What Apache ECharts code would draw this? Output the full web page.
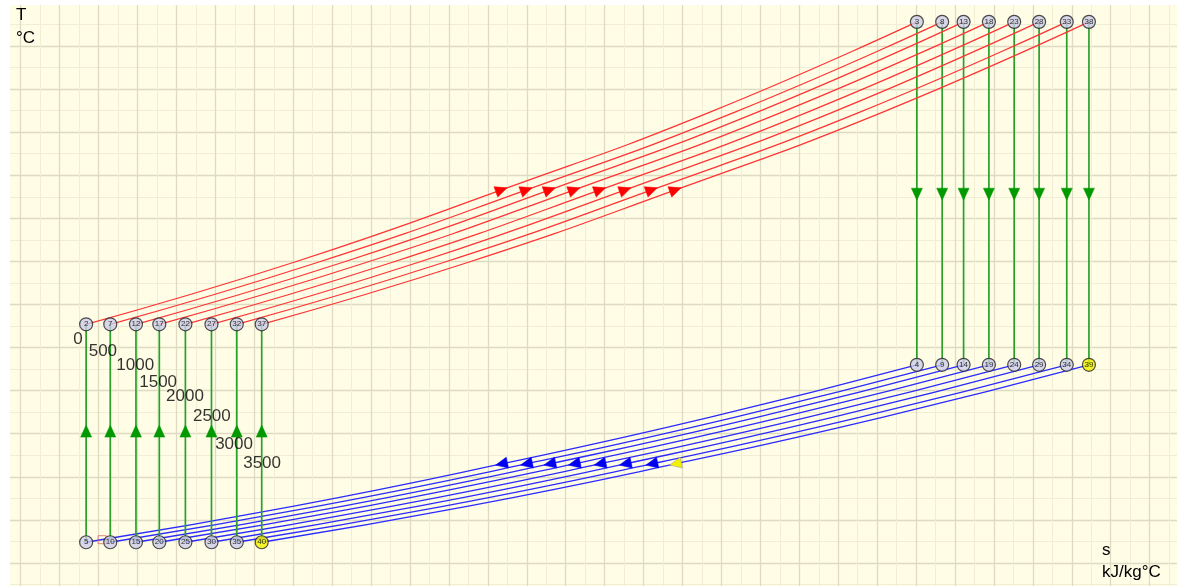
<!DOCTYPE html>
<html>
<head>
<meta charset="utf-8">
<script src="https://cdn.jsdelivr.net/npm/echarts@6/dist/echarts.min.js"></script>
<style>
  html, body { margin: 0; padding: 0; background: #fff; }
  #chart { width: 1177px; height: 586px; }
</style>
</head>
<body>
<div id="chart"></div>
<script>
// T-s diagram, 8 cycles
var chart = echarts.init(document.getElementById('chart'));

// cycle labels (left side)
var cycleLabels = ['0', '500', '1000', '1500', '2000', '2500', '3000', '3500'];
var cycleLabelPos = [[0.247, 260], [0.311, 246], [0.394, 229], [0.453, 210],
                     [0.522, 193], [0.591, 170], [0.648, 138], [0.720, 116]];

// state points: s (kJ/kg°C) and T (°C)
var sLeft  = [0.268, 0.330, 0.396, 0.456, 0.523, 0.590, 0.655, 0.719];
var sRight = [2.402, 2.467, 2.522, 2.587, 2.652, 2.716, 2.787, 2.844];
var tTopLeft = 277, tTopRight = 628, tBotRight = 230, tBotLeft = 24;
var tUpArrow = 153, tDownArrow = 428;

// node numbers
var nodeTopLeft  = [2, 7, 12, 17, 22, 27, 32, 37];
var nodeTopRight = [3, 8, 13, 18, 23, 28, 33, 38];
var nodeBotRight = [4, 9, 14, 19, 24, 29, 34, 39];
var nodeBotLeft  = [5, 10, 15, 20, 25, 30, 35, 40];

// heating curves (red), left -> right
var heatCurves = [
  [[0.268, 277], [0.802, 349], [1.335, 433], [1.869, 523], [2.402, 628]],
  [[0.330, 277], [0.864, 349], [1.399, 433], [1.933, 523], [2.467, 628]],
  [[0.396, 277], [0.928, 349], [1.459, 433], [1.991, 523], [2.522, 628]],
  [[0.456, 277], [0.989, 349], [1.522, 433], [2.054, 523], [2.587, 628]],
  [[0.523, 277], [1.055, 349], [1.588, 433], [2.120, 523], [2.652, 628]],
  [[0.590, 277], [1.122, 349], [1.653, 433], [2.185, 523], [2.716, 628]],
  [[0.655, 277], [1.188, 349], [1.721, 433], [2.254, 523], [2.787, 628]],
  [[0.719, 277], [1.250, 349], [1.782, 433], [2.313, 523], [2.844, 628]]
];

// cooling curves (blue), right -> left
var coolCurves = [
  [[2.402, 230], [1.869, 169], [1.335, 115], [0.802, 66], [0.268, 24]],
  [[2.467, 230], [1.933, 169], [1.399, 115], [0.864, 66], [0.330, 24]],
  [[2.522, 230], [1.991, 169], [1.459, 115], [0.928, 66], [0.396, 24]],
  [[2.587, 230], [2.054, 169], [1.522, 115], [0.989, 66], [0.456, 24]],
  [[2.652, 230], [2.120, 169], [1.588, 115], [1.055, 66], [0.523, 24]],
  [[2.716, 230], [2.185, 169], [1.653, 115], [1.122, 66], [0.590, 24]],
  [[2.787, 230], [2.254, 169], [1.721, 115], [1.188, 66], [0.655, 24]],
  [[2.844, 230], [2.313, 169], [1.782, 115], [1.250, 66], [0.719, 24]]
];

var markerBox = [0.309, 27];

var FONT = '"Liberation Sans", Arial, sans-serif';

function arrowLine(points, midIndex, color, arrowColor, rotate, width) {
  return {
    type: 'line',
    smooth: true,
    symbol: 'none',
    silent: true,
    lineStyle: { color: color, width: width },
    data: points.map(function (p, i) {
      if (i !== midIndex) return { value: p, symbol: 'none' };
      return {
        value: p,
        symbol: 'triangle',
        symbolSize: [11, 12],
        symbolRotate: rotate,
        itemStyle: { color: arrowColor, borderColor: arrowColor === '#f2f200' ? '#999' : arrowColor, borderWidth: 0.5 }
      };
    }),
    z: 3
  };
}

var series = [];
for (var k = 0; k < 8; k++) {
  series.push(arrowLine(coolCurves[k], 2, '#2b2bff', k === 7 ? '#f2f200' : '#0000f0', 102, 1.3));
  series.push(arrowLine(heatCurves[k], 2, '#ff3535', '#ff0000', -70, 1.3));
  series.push(arrowLine([[sLeft[k], tBotLeft], [sLeft[k], tUpArrow], [sLeft[k], tTopLeft]], 1, '#2aa02a', '#009a00', 0, 1.7));
  series.push(arrowLine([[sRight[k], tTopRight], [sRight[k], tDownArrow], [sRight[k], tBotRight]], 1, '#2aa02a', '#009a00', 180, 1.7));
}

// nodes
var nodes = [];
for (var j = 0; j < 8; j++) {
  nodes.push([sLeft[j], tTopLeft, nodeTopLeft[j]]);
  nodes.push([sRight[j], tTopRight, nodeTopRight[j]]);
  nodes.push([sRight[j], tBotRight, nodeBotRight[j]]);
  nodes.push([sLeft[j], tBotLeft, nodeBotLeft[j]]);
}
series.push({
  type: 'scatter',
  silent: true,
  symbol: 'circle',
  symbolSize: 13,
  z: 5,
  data: nodes.map(function (n) {
    var yellow = n[2] === 39 || n[2] === 40;
    return {
      value: n,
      itemStyle: {
        color: yellow ? '#f0f000' : '#cdcdea',
        borderColor: '#222',
        borderWidth: 1.2
      }
    };
  }),
  label: {
    show: true,
    position: 'inside',
    formatter: function (p) { return p.value[2]; },
    fontSize: 8,
    fontFamily: FONT,
    color: '#000'
  }
});

// small marker box near node 5
series.push({
  type: 'scatter',
  silent: true,
  symbol: 'rect',
  symbolSize: 8,
  z: 4,
  data: [markerBox],
  itemStyle: { color: 'rgba(0,0,0,0)', borderColor: '#e06a6a', borderWidth: 1 }
});

// cycle labels
series.push({
  type: 'scatter',
  silent: true,
  symbolSize: 1,
  z: 6,
  itemStyle: { color: 'rgba(0,0,0,0)' },
  data: cycleLabelPos.map(function (p, i) { return { value: p, name: cycleLabels[i] }; }),
  label: {
    show: true,
    position: 'inside',
    formatter: function (p) { return p.name; },
    fontSize: 17,
    fontFamily: FONT,
    color: '#000'
  }
});

var option = {
  animation: false,
  backgroundColor: '#fffde6',
  grid: {
    left: -18.2,
    top: 2.92,
    width: 1206.8,
    height: 603.1,
    outerBoundsMode: 'none',
    show: false
  },
  xAxis: {
    type: 'value',
    min: 0,
    max: 3.1,
    interval: 0.1,
    axisLine: { show: false },
    axisTick: { show: false },
    axisLabel: { show: false },
    splitLine: { show: true, lineStyle: { color: '#dfdbc2', width: 1.3 } },
    minorTick: { show: false, splitNumber: 2 },
    minorSplitLine: { show: true, lineStyle: { color: '#f2eed6', width: 1 } }
  },
  yAxis: {
    type: 'value',
    min: -50,
    max: 650,
    interval: 50,
    axisLine: { show: false },
    axisTick: { show: false },
    axisLabel: { show: false },
    splitLine: { show: true, lineStyle: { color: '#dfdbc2', width: 1.3 } },
    minorTick: { show: false, splitNumber: 2 },
    minorSplitLine: { show: true, lineStyle: { color: '#f2eed6', width: 1 } }
  },
  graphic: [
    { type: 'rect', z: 100, shape: { x: 0, y: 0, width: 10, height: 586 }, style: { fill: '#ffffff' } },
    { type: 'rect', z: 100, shape: { x: 0, y: 0, width: 1177, height: 5 }, style: { fill: '#ffffff' } },
    { type: 'text', z: 101, left: 16, top: 7, style: { text: 'T', font: '17px ' + FONT, fill: '#000' } },
    { type: 'text', z: 101, left: 16, top: 30, style: { text: '°C', font: '17px ' + FONT, fill: '#000' } },
    { type: 'text', z: 101, left: 1102, top: 542, style: { text: 's', font: '17px ' + FONT, fill: '#000' } },
    { type: 'text', z: 101, left: 1102, top: 564, style: { text: 'kJ/kg°C', font: '17px ' + FONT, fill: '#000' } }
  ],
  series: series
};

chart.setOption(option);
</script>
</body>
</html>
